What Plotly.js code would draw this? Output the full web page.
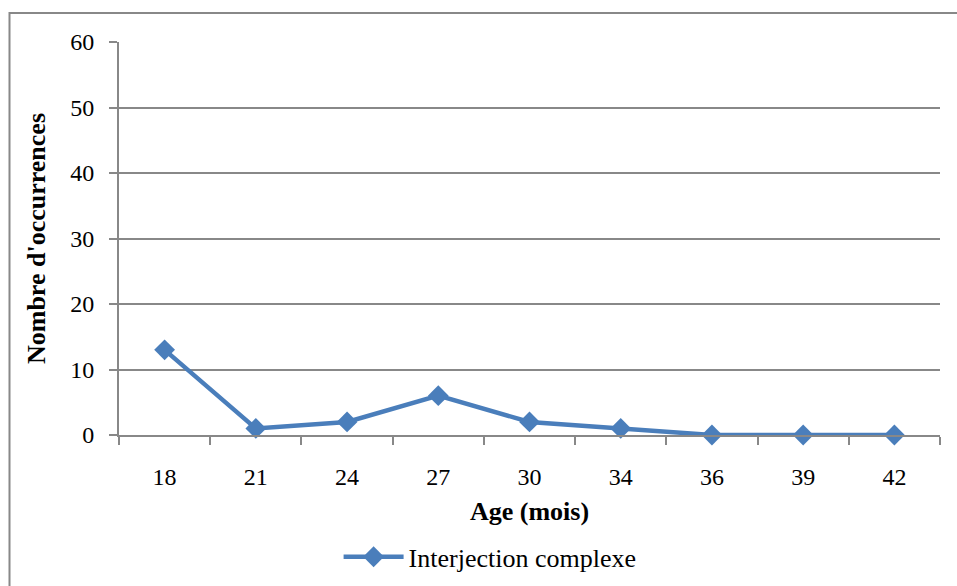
<!DOCTYPE html>
<html>
<head>
<meta charset="utf-8">
<script src="https://cdn.plot.ly/plotly-3.0.1.min.js"></script>
<style>html,body{margin:0;padding:0;background:#fff;}#chart{width:957px;height:586px;}</style>
</head>
<body>
<div id="chart"></div>
<script>
const ages = ["18", "21", "24", "27", "30", "34", "36", "39", "42"];
const interjectionComplexe = [13, 1, 2, 6, 2, 1, 0, 0, 0];
const seriesName = "Interjection complexe";
const yTicks = [0, 10, 20, 30, 40, 50, 60];

const fam = "Liberation Serif, Times New Roman, serif";
const tickFont = {family: fam, size: 24, color: "#000"};
const titleFont = {family: fam, size: 26, color: "#000"};

const trace = {
  type: "scatter",
  mode: "lines+markers",
  x: ages,
  y: interjectionComplexe,
  name: seriesName,
  line: {color: "#4a7ebb", width: 4.5},
  marker: {symbol: "diamond", size: 16, color: "#4a7ebb"},
  cliponaxis: false
};

const layout = {
  width: 957, height: 586,
  margin: {l: 119, r: 17, t: 42, b: 151, autoexpand: false},
  paper_bgcolor: "#fff", plot_bgcolor: "#fff",
  font: tickFont,
  showlegend: true,
  legend: {orientation: "h", x: 0.452, xanchor: "center", y: -0.31, yanchor: "middle",
           font: titleFont, itemwidth: 60},
  xaxis: {
    type: "category",
    range: [-0.5, 8.5],
    tickson: "boundaries",
    automargin: false,
    ticks: "outside", ticklen: 8, tickcolor: "#888", tickwidth: 2,
    showline: true, linecolor: "#888", linewidth: 2,
    showgrid: false, zeroline: false,
    tickfont: tickFont,
    ticklabelstandoff: 19,
    title: {text: "<b>Age (mois)</b>", font: titleFont, standoff: 13}
  },
  yaxis: {
    range: [0, 60],
    tickvals: yTicks,
    automargin: false,
    ticks: "outside", ticklen: 8, tickcolor: "#888", tickwidth: 2,
    showline: true, linecolor: "#888", linewidth: 2,
    showgrid: true, gridcolor: "#888", gridwidth: 2,
    zeroline: false,
    tickfont: tickFont,
    ticklabelstandoff: 10,
    title: {text: "<b>Nombre d'occurrences</b>", font: titleFont, standoff: 17}
  },
  shapes: [{
    type: "rect", xref: "paper", yref: "paper",
    x0: (9.5 - 119) / 821, x1: (970 - 119) / 821,
    y0: (435 - 600) / 393, y1: (435 - 13) / 393,
    line: {color: "#888", width: 2}, fillcolor: "rgba(0,0,0,0)", layer: "below"
  }]
};

Plotly.newPlot("chart", [trace], layout, {displayModeBar: false});
</script>
</body>
</html>
